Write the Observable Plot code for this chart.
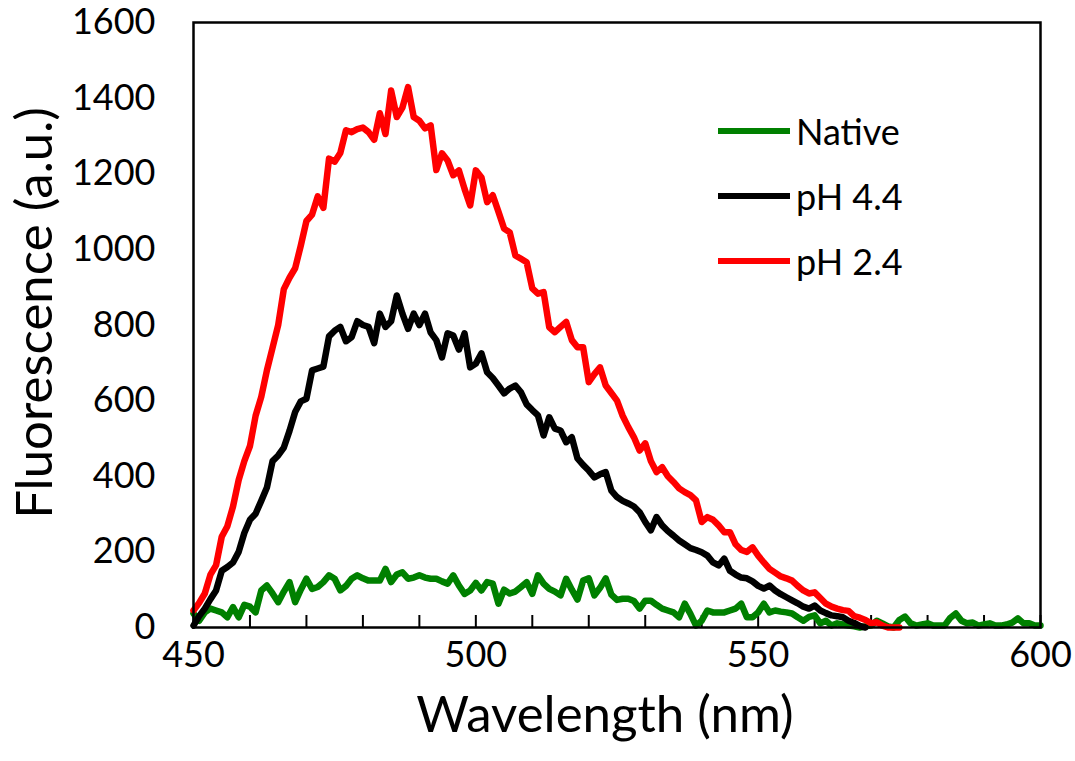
<!DOCTYPE html>
<html><head><meta charset="utf-8">
<script src="https://cdn.jsdelivr.net/npm/d3@7"></script>
<script src="https://cdn.jsdelivr.net/npm/@observablehq/plot@0.6"></script>
<style>
body{margin:0;background:#fff;font-family:Lato,sans-serif}
#wrap{position:relative;width:1075px;height:761px}
.leg{position:absolute;left:718px;height:50px;line-height:50px;display:flex;align-items:center;font-size:36px;color:#000;font-family:Lato,sans-serif}
.leg .sw{display:inline-block;width:72px;height:6.5px;margin-right:6px}
</style></head><body><div id="wrap"></div>
<script>
// Data (1 nm steps starting at 450 nm)
const startNm = 450;
const native = [37,18,40,50,45,40,27,54,27,60,
55,40,98,111,90,67,95,120,67,100,
129,102,107,120,138,129,98,110,129,138,
130,124,124,124,155,120,140,146,129,132,
138,132,129,129,122,116,138,111,89,98,
118,98,120,116,63,100,90,95,107,120,
89,138,116,102,95,85,129,100,74,124,
130,85,105,130,87,73,76,76,70,50,
71,71,60,50,45,40,27,63,36,5,
18,45,40,40,40,45,50,63,27,27,
40,63,40,45,42,40,37,27,18,28,
32,11,18,5,11,8,5,3,0,3,
5,18,11,3,0,20,29,11,5,8,
11,5,5,5,25,37,18,11,13,5,
8,11,5,5,8,13,24,11,11,5,
5];
const pH44 = [5,30,50,75,98,150,160,172,200,250,
285,301,335,370,440,455,476,520,570,598,
605,680,685,690,770,785,795,757,768,810,
800,795,752,830,795,810,878,830,790,830,
800,830,780,760,714,778,772,735,778,688,
698,725,675,660,640,619,632,640,622,590,
575,561,508,556,526,521,490,503,447,430,
415,397,405,411,362,345,335,328,320,305,
279,257,292,270,255,243,230,220,210,205,
199,190,172,164,182,150,140,132,130,122,
110,103,111,98,88,80,72,64,55,50,
58,45,38,32,30,27,18,12,4,0];
const pH24 = [45,65,90,140,165,240,268,320,390,440,
480,560,610,680,740,800,895,925,950,1010,
1075,1092,1140,1110,1240,1232,1255,1315,1310,1318,
1322,1310,1290,1360,1305,1420,1350,1375,1429,1350,
1340,1320,1328,1210,1254,1235,1196,1209,1160,1116,
1209,1190,1125,1143,1100,1055,1045,984,975,966,
897,883,887,794,781,795,808,760,741,741,
649,670,688,640,620,600,560,530,503,468,
487,440,411,424,400,385,368,358,350,336,
279,292,285,270,252,252,220,205,200,212,
190,172,155,145,135,130,124,110,98,90,
93,78,63,55,50,46,44,30,26,20,
11,14,5,0,0,0];

const seriesNames = ["Native", "pH 4.4", "pH 2.4"];
const seriesColors = ["#008000", "#000000", "#ff0000"];
const seriesValues = [native, pH44, pH24];
const xTickLabels = [450, 500, 550, 600];
const xMinorTicks = [450,460,470,480,490,500,510,520,530,540,550,560,570,580,590,600];
const yTickLabels = [0,200,400,600,800,1000,1200,1400,1600];

const rows = [];
seriesValues.forEach((vals, s) => vals.forEach((v, i) => rows.push({nm: startNm + i, value: v, series: seriesNames[s]})));

const W = 1075, H = 761, mL = 193, mR = 35, mT = 22, mB = 134;
const frameH = H - mT - mB;

const chart = Plot.plot({
  width: W, height: H,
  marginLeft: mL, marginRight: mR, marginTop: mT, marginBottom: mB,
  style: {fontFamily: "Lato, sans-serif", fontSize: "36px", background: "white", color: "black"},
  x: {domain: [450, 600]},
  y: {domain: [0, 1600]},
  color: {domain: seriesNames, range: seriesColors},
  marks: [
    Plot.tickX(xMinorTicks, {x: d => d, insetTop: frameH - 12, stroke: "black", strokeWidth: 2}),
    Plot.axisY({ticks: yTickLabels, tickFormat: d => String(d), tickSize: 0, tickPadding: 38, label: null, fill: "black"}),
    Plot.axisX({ticks: xTickLabels, tickFormat: d => String(d), tickSize: 0, tickPadding: 14, label: null, fill: "black"}),
    Plot.line(rows, {x: "nm", y: "value", z: "series", stroke: "series", strokeWidth: 6.5, strokeLinejoin: "round", strokeLinecap: "round"}),
    Plot.frame({stroke: "black", strokeWidth: 2.5}),
    Plot.text(["Fluorescence (a.u.)"], {frameAnchor: "left", textAnchor: "middle", lineAnchor: "middle", rotate: -90, dx: -158, dy: -12, fontSize: 51, fill: "black"}),
    Plot.text(["Wavelength (nm)"], {frameAnchor: "bottom", textAnchor: "middle", lineAnchor: "middle", dy: 88, dx: -12, fontSize: 51, fill: "black"})
  ]
});
const wrap = document.getElementById("wrap");
wrap.appendChild(chart);

const legendY = [131, 196, 261];
seriesNames.forEach((name, i) => {
  const d = document.createElement("div");
  d.className = "leg";
  d.style.top = (legendY[i] - 25) + "px";
  const sw = document.createElement("span");
  sw.className = "sw";
  sw.style.background = seriesColors[i];
  d.appendChild(sw);
  d.appendChild(document.createTextNode(name));
  wrap.appendChild(d);
});
</script></body></html>
